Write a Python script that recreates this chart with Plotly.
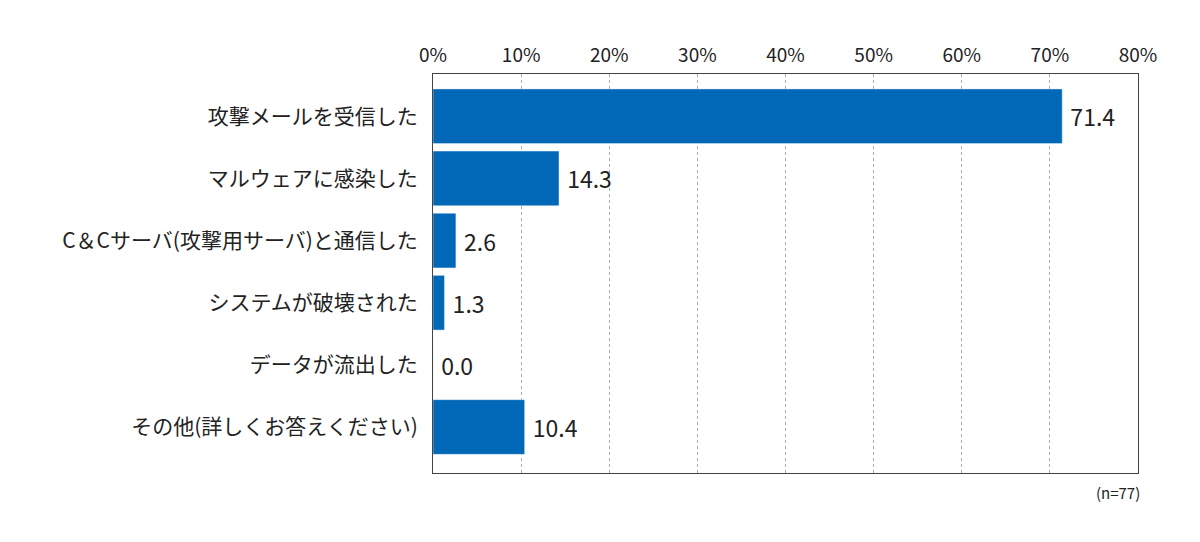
import plotly.graph_objects as go

# Survey responses (n=77), shown top to bottom
categories = [
    "攻撃メールを受信した",
    "マルウェアに感染した",
    "C＆Cサーバ(攻撃用サーバ)と通信した",
    "システムが破壊された",
    "データが流出した",
    "その他(詳しくお答えください)",
]
values = [71.4, 14.3, 2.6, 1.3, 0.0, 10.4]
tick_vals = [0, 10, 20, 30, 40, 50, 60, 70, 80]
tick_text = ["0%", "10%", "20%", "30%", "40%", "50%", "60%", "70%", "80%"]

font_family = "Noto Sans CJK JP"

fig = go.Figure()

fig.add_trace(
    go.Bar(
        x=values,
        y=categories,
        orientation="h",
        marker=dict(color="#0068B7"),
        width=0.88,
        text=values,
        texttemplate=" %{x:.1f}",
        textposition="outside",
        textfont=dict(size=23, color="#222222", family=font_family),
        cliponaxis=False,
        hoverinfo="skip",
    )
)

fig.update_layout(
    width=1200,
    height=542,
    margin=dict(l=425, r=70, t=66, b=77),
    plot_bgcolor="white",
    paper_bgcolor="white",
    showlegend=False,
    font=dict(family=font_family, color="#222222"),
    xaxis=dict(
        side="top",
        range=[0, 80],
        tickvals=tick_vals,
        ticktext=tick_text,
        tickfont=dict(size=19),
        showgrid=True,
        gridcolor="#aaaaaa",
        gridwidth=1,
        griddash="dot",
        zeroline=False,
        showline=True,
        linecolor="#444444",
        linewidth=1,
        mirror=True,
        ticks="",
        ticklabelstandoff=3,
    ),
    yaxis=dict(
        type="category",
        range=[5.74, -0.68],
        tickfont=dict(size=21),
        showgrid=False,
        showline=True,
        linecolor="#444444",
        linewidth=1,
        mirror=True,
        ticks="",
        ticklabelstandoff=10,
    ),
)

fig.add_annotation(
    text="(n=77)",
    xref="paper",
    yref="paper",
    x=1.005,
    y=-0.05,
    xanchor="right",
    yanchor="middle",
    showarrow=False,
    font=dict(size=15, color="#222222"),
)

fig.write_html("out.html")
